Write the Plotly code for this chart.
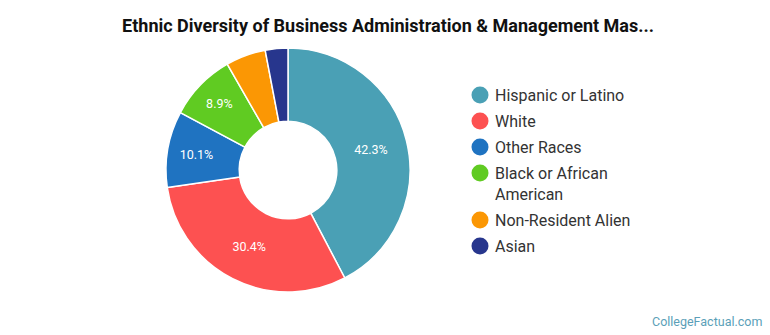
import plotly.graph_objects as go

labels = ["Hispanic or Latino", "White", "Other Races", "Black or African<br>American",
          "Non-Resident Alien", "Asian"]
values = [42.3, 30.4, 10.1, 8.9, 5.3, 3.0]
colors = ["#4aa0b5", "#fd5151", "#1f73c1", "#60cb22", "#fb9704", "#27368d"]

texts = [f"{v:.1f}%" if v >= 8 else "" for v in values]

W, H = 770, 335

fig = go.Figure()
fig.add_trace(go.Pie(
    labels=labels, values=values, text=texts, textinfo="text",
    sort=False, direction="clockwise", rotation=0,
    hole=0.4, marker=dict(colors=colors, line=dict(color="white", width=1.5)),
    textfont=dict(color="white", size=12.5, family="Roboto"),
    insidetextorientation="horizontal",
    domain=dict(x=[0.2156, 0.5325], y=[0.128, 0.857]),
    showlegend=False, hoverinfo="label+percent",
))

# custom legend (circles + labels) in pixel positions
leg_x = 480
leg_y = [95, 121, 147, 173, 220, 246]
shapes, annots = [], []
r = 8.5
for lab, col, yy in zip(labels, colors, leg_y):
    shapes.append(dict(type="circle", xref="paper", yref="paper",
                       x0=(leg_x - r) / W, x1=(leg_x + r) / W,
                       y0=1 - (yy + r) / H, y1=1 - (yy - r) / H,
                       fillcolor=col, line=dict(width=0)))
    nlines = lab.count("<br>") + 1
    annots.append(dict(text=lab, x=493 / W, y=1 - (yy - 11) / H, xref="paper", yref="paper",
                       xanchor="left", yanchor="top", align="left", showarrow=False,
                       font=dict(size=16, color="#333333", family="Roboto")))

annots.append(dict(text="CollegeFactual.com", x=0.992, y=0.012, xref="paper", yref="paper",
                   xanchor="right", yanchor="bottom", showarrow=False,
                   font=dict(size=12.5, color="#5b9fb8", family="Roboto")))

fig.update_layout(
    width=W, height=H, margin=dict(l=0, r=0, t=0, b=0),
    paper_bgcolor="white", plot_bgcolor="white",
    font=dict(family="Roboto", color="#333333"),
    title=dict(text="<b>Ethnic Diversity of Business Administration &amp; Management Mas...</b>",
               x=388 / W, xanchor="center", y=1 - 26 / H, yanchor="middle",
               font=dict(size=18, color="#111111", family="Roboto")),
    shapes=shapes, annotations=annots,
)
fig.write_html("out.html")
